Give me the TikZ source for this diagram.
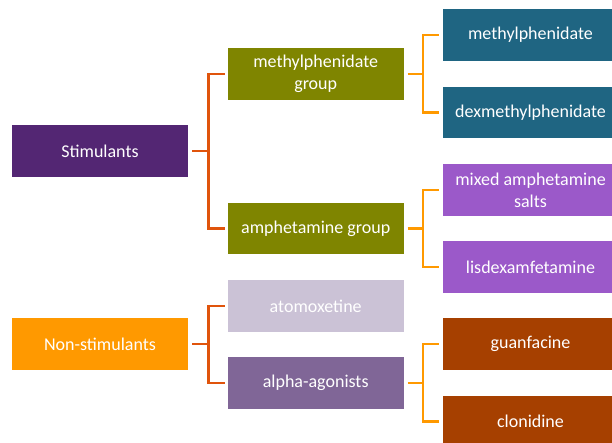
\documentclass[tikz,border=0pt]{standalone}
\usepackage{fontspec}
\setmainfont{Carlito}
\usetikzlibrary{positioning}
\definecolor{stimcol}{RGB}{83,38,115}
\definecolor{nonstimcol}{RGB}{255,153,0}
\definecolor{groupcol}{RGB}{127,133,0}
\definecolor{atomocol}{RGB}{203,194,214}
\definecolor{alphacol}{RGB}{128,102,151}
\definecolor{mphcol}{RGB}{31,101,130}
\definecolor{ampcol}{RGB}{155,89,201}
\definecolor{agocol}{RGB}{166,64,0}
\definecolor{lvlone}{RGB}{224,84,12}
\definecolor{lvltwo}{RGB}{255,153,0}

\begin{document}
\begin{tikzpicture}[x=1pt,y=-1pt,
	box/.style = {minimum width=176pt,minimum height=51.7pt,inner sep=0pt,align=center,text=white,font=\fontsize{18}{21.7}\selectfont},
	link/.style = {line width=2.6pt,shorten <=4pt,shorten >=3pt}
	]
	\clip (0,0) rectangle (612,443);
	%CATEGORIE
	\node[box,fill=stimcol] (stim) at (100,151) {Stimulants};
	\node[box,fill=nonstimcol] (nonstim) at (100,344) {Non-stimulants};
	%GRUPPI
	\node[box,fill=groupcol] (mphgroup) at (315.7,74) {methylphenidate\\group};
	\node[box,fill=groupcol] (ampgroup) at (315.7,228.5) {amphetamine group};
	\node[box,fill=atomocol] (atomo) at (315.7,306) {atomoxetine};
	\node[box,fill=alphacol] (alpha) at (315.7,383) {alpha-agonists};
	%FARMACI
	\node[box,fill=mphcol] (mph) at (530.5,35) {methylphenidate};
	\node[box,fill=mphcol] (dexmph) at (530.5,112.5) {dexmethylphenidate};
	\node[box,fill=ampcol] (mas) at (530.5,190) {mixed amphetamine\\salts};
	\node[box,fill=ampcol] (lisdex) at (530.5,267) {lisdexamfetamine};
	\node[box,fill=agocol] (guanf) at (530.5,344) {guanfacine};
	\node[box,fill=agocol] (clon) at (530.5,421.5) {clonidine};
	%PRIMO LIVELLO
	\draw[link,lvlone] (stim.east) -- ++(20,0) |- (mphgroup.west);
	\draw[link,lvlone] (stim.east) -- ++(20,0) |- (ampgroup.west);
	\draw[link,lvlone] (nonstim.east) -- ++(20,0) |- (atomo.west);
	\draw[link,lvlone] (nonstim.east) -- ++(20,0) |- (alpha.west);
	%SECONDO LIVELLO
	\draw[link,lvltwo] (mphgroup.east) -- ++(19,0) |- (mph.west);
	\draw[link,lvltwo] (mphgroup.east) -- ++(19,0) |- (dexmph.west);
	\draw[link,lvltwo] (ampgroup.east) -- ++(19,0) |- (mas.west);
	\draw[link,lvltwo] (ampgroup.east) -- ++(19,0) |- (lisdex.west);
	\draw[link,lvltwo] (alpha.east) -- ++(19,0) |- (guanf.west);
	\draw[link,lvltwo] (alpha.east) -- ++(19,0) |- (clon.west);
\end{tikzpicture}
\end{document}
